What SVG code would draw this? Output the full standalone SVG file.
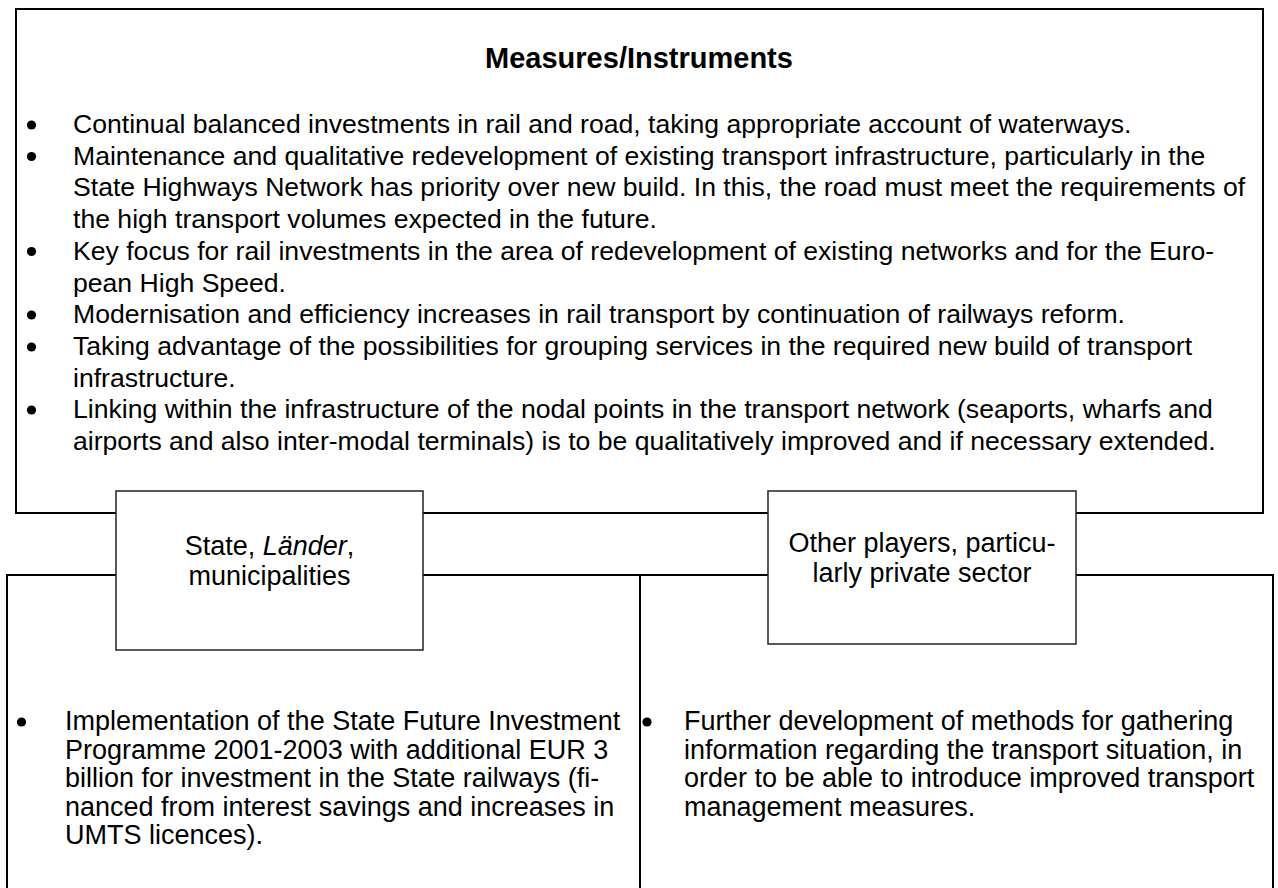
<svg xmlns="http://www.w3.org/2000/svg" width="1278" height="888" viewBox="0 0 1278 888">
<style>
text{font-family:"Liberation Sans",Arial,sans-serif;fill:#000}
.t{font-size:26.6px}
.s{font-size:27px}
.h{font-size:29px;font-weight:bold}
.c{text-anchor:middle}
.dot{fill:#000}
.frame{fill:#fff;stroke:#000;stroke-width:2}
.node{fill:#fff;stroke:#222;stroke-width:1.5}
.div{stroke:#000;stroke-width:2}
</style>
<defs>
<circle id="dot" class="dot" r="4.6" cx="0" cy="0"/>
</defs>
<rect width="1278" height="888" fill="#fff"/>
<g id="measures">
<rect class="frame" x="16" y="9" width="1247" height="504"/>
<text class="h c" x="639" y="68">Measures/Instruments</text>
<use href="#dot" x="31.5" y="125"/>
<text class="t" x="73" y="133">Continual balanced investments in rail and road, taking appropriate account of waterways.</text>
<use href="#dot" x="31.5" y="156.5"/>
<text class="t" x="73" y="164.5">Maintenance and qualitative redevelopment of existing transport infrastructure, particularly in the</text>
<text class="t" x="73" y="196">State Highways Network has priority over new build. In this, the road must meet the requirements of</text>
<text class="t" x="73" y="228">the high transport volumes expected in the future.</text>
<use href="#dot" x="31.5" y="251.5"/>
<text class="t" x="73" y="259.5">Key focus for rail investments in the area of redevelopment of existing networks and for the Euro-</text>
<text class="t" x="73" y="291.5">pean High Speed.</text>
<use href="#dot" x="31.5" y="315"/>
<text class="t" x="73" y="323">Modernisation and efficiency increases in rail transport by continuation of railways reform.</text>
<use href="#dot" x="31.5" y="347"/>
<text class="t" x="73" y="355">Taking advantage of the possibilities for grouping services in the required new build of transport</text>
<text class="t" x="73" y="386.5">infrastructure.</text>
<use href="#dot" x="31.5" y="410"/>
<text class="t" x="73" y="418">Linking within the infrastructure of the nodal points in the transport network (seaports, wharfs and</text>
<text class="t" x="73" y="450">airports and also inter-modal terminals) is to be qualitatively improved and if necessary extended.</text>
</g>
<g id="actions">
<rect class="frame" x="7" y="575" width="1266" height="330"/>
<line class="div" x1="640" y1="575" x2="640" y2="888"/>
</g>
<g id="state-actions">
<use href="#dot" x="21.5" y="722"/>
<text class="s" x="65" y="730">Implementation of the State Future Investment</text>
<text class="s" x="65" y="758.5">Programme 2001-2003 with additional EUR 3</text>
<text class="s" x="65" y="787">billion for investment in the State railways (fi-</text>
<text class="s" x="65" y="815.5">nanced from interest savings and increases in</text>
<text class="s" x="65" y="844">UMTS licences).</text>
</g>
<g id="private-actions">
<use href="#dot" x="647" y="722"/>
<text class="s" x="684" y="730">Further development of methods for gathering</text>
<text class="s" x="684" y="758.5">information regarding the transport situation, in</text>
<text class="s" x="684" y="787">order to be able to introduce improved transport</text>
<text class="s" x="684" y="815.5">management measures.</text>
</g>
<g id="node-state">
<rect class="node" x="116" y="491" width="307" height="159"/>
<text class="s c" x="269.5" y="555">State, <tspan font-style="italic">Länder</tspan>,</text>
<text class="s c" x="269.5" y="585">municipalities</text>
</g>
<g id="node-private">
<rect class="node" x="768" y="491" width="308" height="153"/>
<text class="s c" x="922" y="552">Other players, particu-</text>
<text class="s c" x="922" y="582">larly private sector</text>
</g>
<g id="connectors"></g>
</svg>
